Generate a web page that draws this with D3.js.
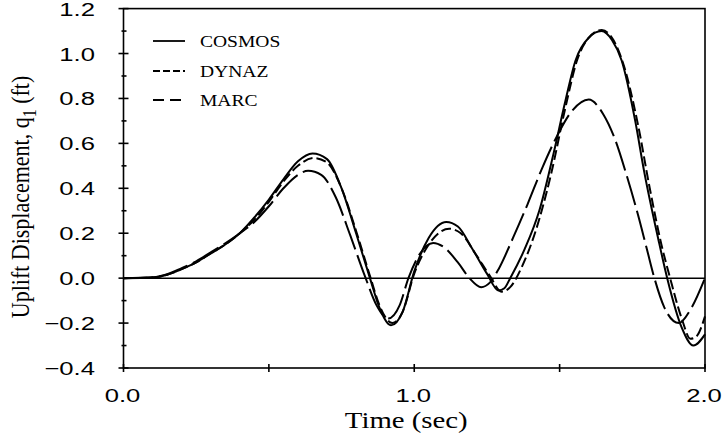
<!DOCTYPE html>
<head>
  <meta http-equiv="Content-Type" content="text/html; charset=utf-8">
  <style>
    body { margin: 0; background: #fff; }
  </style>
</head>
<body></body>
<script src="https://d3js.org/d3.v7.min.js"></script>
<script>

var width = 724,
    height = 444;

// Inputs (time in sec, uplift in ft)
var cosmos = [[0,0],[0.1,0.003],[0.15,0.015],[0.2,0.04],[0.25,0.07],[0.3,0.11],[0.35,0.15],[0.4,0.2],
              [0.45,0.27],[0.5,0.35],[0.55,0.44],[0.6,0.52],[0.65,0.555],[0.7,0.53],[0.75,0.40],[0.8,0.2],
              [0.85,-0.01],[0.88,-0.13],[0.92,-0.21],[0.96,-0.15],[1.0,0.03],[1.05,0.18],[1.11,0.25],
              [1.15,0.23],[1.2,0.13],[1.25,0.02],[1.29,-0.055],[1.31,-0.045],[1.33,0],[1.38,0.13],
              [1.43,0.30],[1.48,0.56],[1.52,0.79],[1.555,0.97],[1.6,1.07],[1.644,1.10],[1.68,1.06],
              [1.713,0.97],[1.76,0.70],[1.79,0.48],[1.84,0.17],[1.87,0],[1.92,-0.22],[1.96,-0.30],[2.0,-0.25]];
var dynaz  = [[0,0],[0.1,0.003],[0.15,0.015],[0.2,0.04],[0.25,0.07],[0.3,0.11],[0.35,0.15],[0.4,0.2],
              [0.45,0.26],[0.5,0.34],[0.55,0.43],[0.6,0.50],[0.655,0.535],[0.7,0.515],[0.75,0.40],[0.8,0.21],
              [0.85,0],[0.88,-0.12],[0.925,-0.20],[0.96,-0.15],[1.0,0.02],[1.05,0.15],[1.12,0.22],
              [1.16,0.20],[1.21,0.11],[1.26,0.01],[1.30,-0.06],[1.33,-0.04],[1.37,0.05],[1.42,0.22],
              [1.47,0.46],[1.52,0.76],[1.56,0.97],[1.6,1.07],[1.645,1.105],[1.685,1.06],[1.72,0.95],
              [1.77,0.68],[1.81,0.40],[1.85,0.15],[1.88,0],[1.92,-0.18],[1.95,-0.27],[1.97,-0.26],[2.0,-0.17]];
var marc   = [[0,0],[0.1,0.004],[0.15,0.018],[0.2,0.045],[0.25,0.075],[0.3,0.115],[0.35,0.155],[0.4,0.2],
              [0.45,0.25],[0.5,0.32],[0.55,0.40],[0.6,0.46],[0.635,0.478],[0.68,0.46],[0.73,0.36],[0.78,0.19],
              [0.83,0.01],[0.87,-0.12],[0.91,-0.18],[0.95,-0.12],[0.98,0],[1.02,0.11],[1.065,0.157],
              [1.1,0.14],[1.15,0.07],[1.19,0],[1.23,-0.04],[1.26,-0.02],[1.29,0.04],[1.34,0.18],
              [1.39,0.33],[1.44,0.49],[1.49,0.63],[1.54,0.74],[1.60,0.795],[1.65,0.73],[1.69,0.62],
              [1.73,0.46],[1.77,0.28],[1.80,0.13],[1.826,0],[1.86,-0.13],[1.91,-0.20],[1.95,-0.14],[2.0,0]];

var seriesNames = ["COSMOS", "DYNAZ", "MARC"];
var seriesData = [cosmos, dynaz, marc];
var dashes = ["none", "10,4", "30,6"];
var legendDashes = ["none", "7,3", "11,6"];

var xTicks = [0, 1, 2];
var xMinor = [0.5, 1.5];
var yTicks = [-0.4, -0.2, 0, 0.2, 0.4, 0.6, 0.8, 1.0, 1.2];
var yMinor = [-0.3, -0.1, 0.1, 0.3, 0.5, 0.7, 0.9, 1.1];

var xs = d3.scaleLinear().domain([0, 2]).range([123.5, 705]);
var ys = d3.scaleLinear().domain([-0.4, 1.2]).range([368, 8.6]);

var sans = "'Liberation Sans', Arial, Helvetica, sans-serif",
    serif = "'Liberation Serif', 'Times New Roman', serif",
    stretch = 1.35;   // scanned figure text is wide

var svg = d3.select("body").append("svg")
    .attr("width", width)
    .attr("height", height);

// frame
svg.append("rect")
    .attr("x", xs(0)).attr("y", ys(1.2))
    .attr("width", xs(2) - xs(0)).attr("height", ys(-0.4) - ys(1.2))
    .attr("fill", "none").attr("stroke", "black").attr("stroke-width", 1.6);

// zero line
svg.append("line")
    .attr("x1", xs(0)).attr("x2", xs(2))
    .attr("y1", ys(0)).attr("y2", ys(0))
    .attr("stroke", "black").attr("stroke-width", 1.5);

// y ticks
svg.selectAll(".ymaj").data(yTicks).enter().append("line")
    .attr("x1", xs(0) - 5).attr("x2", xs(0) + 5)
    .attr("y1", d => ys(d)).attr("y2", d => ys(d))
    .attr("stroke", "black").attr("stroke-width", 1.6);
svg.selectAll(".ymin").data(yMinor).enter().append("line")
    .attr("x1", xs(0) - 2).attr("x2", xs(0) + 3)
    .attr("y1", d => ys(d)).attr("y2", d => ys(d))
    .attr("stroke", "black").attr("stroke-width", 1.6);
svg.selectAll(".ylab").data(yTicks).enter().append("text")
    .attr("transform", d => "translate(95," + (ys(d) + 7) + ") scale(" + stretch + ",1)")
    .attr("text-anchor", "end")
    .attr("font-family", sans)
    .attr("font-size", 19)
    .text(d => d3.format(".1f")(d));

// x ticks
svg.selectAll(".xmaj").data(xTicks.concat(xMinor)).enter().append("line")
    .attr("x1", d => xs(d)).attr("x2", d => xs(d))
    .attr("y1", ys(-0.4) - 4).attr("y2", ys(-0.4) + 4)
    .attr("stroke", "black").attr("stroke-width", 1.6);
svg.selectAll(".xlab").data(xTicks).enter().append("text")
    .attr("transform", d => "translate(" + (xs(d) - 1) + ",402) scale(" + stretch + ",1)")
    .attr("text-anchor", "middle")
    .attr("font-family", sans)
    .attr("font-size", 19)
    .text(d => d3.format(".1f")(d));

// axis titles
svg.append("text")
    .attr("transform", "translate(" + (xs(1) - 8) + ",428) scale(1.2,1)")
    .attr("text-anchor", "middle")
    .attr("font-family", serif)
    .attr("font-size", 24)
    .text("Time (sec)");

var ytitle = svg.append("text")
    .attr("transform", "translate(29,197) scale(1.15,1) rotate(-90)")
    .attr("text-anchor", "middle")
    .attr("font-family", serif)
    .attr("font-size", 22);
ytitle.append("tspan").text("Uplift Displacement, q");
ytitle.append("tspan").attr("dy", 6).attr("font-size", 16).text("1");
ytitle.append("tspan").attr("dy", -6).text(" (ft)");

// curves
var line = d3.line()
    .x(d => xs(d[0]))
    .y(d => ys(d[1]))
    .curve(d3.curveMonotoneX);

svg.selectAll(".curve").data(seriesData).enter().append("path")
    .attr("d", line)
    .attr("fill", "none")
    .attr("stroke", "black")
    .attr("stroke-width", 2)
    .attr("stroke-dasharray", (d, i) => dashes[i]);

// legend
var legY = [41, 71, 100];
seriesNames.forEach(function(name, i) {
  svg.append("line")
      .attr("x1", 153).attr("x2", 185)
      .attr("y1", legY[i]).attr("y2", legY[i])
      .attr("stroke", "black").attr("stroke-width", 1.8)
      .attr("stroke-dasharray", legendDashes[i]);
  svg.append("text")
      .attr("transform", "translate(200," + (legY[i] + 6) + ") scale(1.15,1)")
      .attr("font-family", serif)
      .attr("font-size", 17)
      .text(name);
});

</script>
</html>
